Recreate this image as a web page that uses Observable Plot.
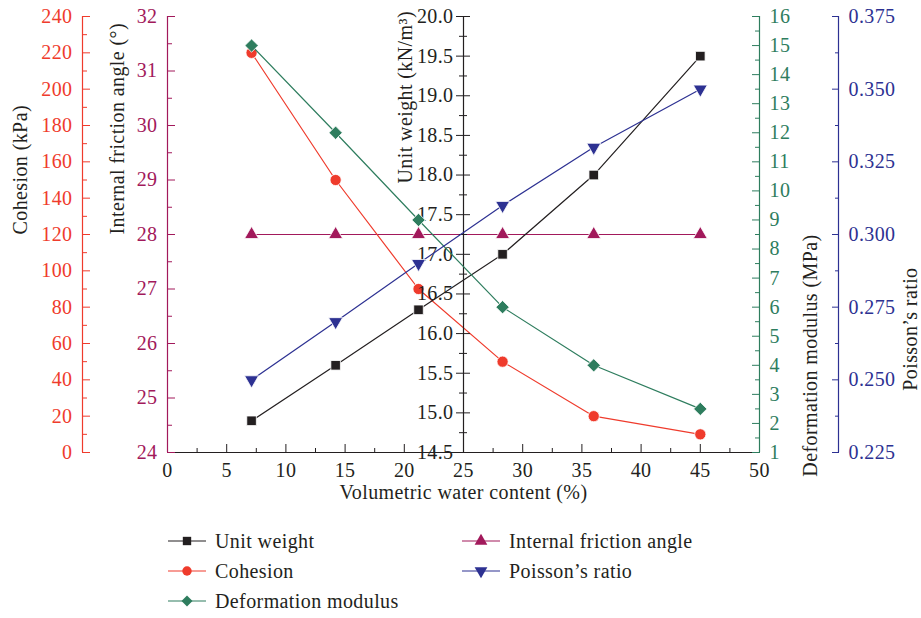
<!DOCTYPE html>
<html><head><meta charset="utf-8">
<script src="https://cdn.jsdelivr.net/npm/d3@7"></script>
<script src="https://cdn.jsdelivr.net/npm/@observablehq/plot@0.6"></script>
<style>
body{margin:0;background:#fff;}
#wrap{position:relative;width:921px;height:618px;font-family:"Liberation Serif",serif;overflow:hidden;}
#wrap svg.layer{position:absolute;left:0;top:0;}
.leg{position:absolute;display:flex;align-items:center;font-size:20px;letter-spacing:0.4px;color:#231f20;white-space:nowrap;}
.leg svg{margin-right:9px;}
</style></head><body><div id="wrap"></div>
<script>
// ---- data ----
const water = [7.1, 14.2, 21.2, 28.3, 36.0, 45.0];
const unitWeight = [14.9, 15.6, 16.3, 17.0, 18.0, 19.5];
const cohesion = [220, 150, 90, 50, 20, 10];
const frictionAngle = [28, 28, 28, 28, 28, 28];
const poisson = [0.25, 0.27, 0.29, 0.31, 0.33, 0.35];
const deformation = [15, 12, 9, 6, 4, 2.5];

const seriesNames = ["Unit weight", "Cohesion", "Deformation modulus", "Internal friction angle", "Poisson\u2019s ratio"];

// ---- ticks ----
const xTicks = [0, 5, 10, 15, 20, 25, 30, 35, 40, 45, 50];
const xMinor = [2.5, 7.5, 12.5, 17.5, 22.5, 27.5, 32.5, 37.5, 42.5, 47.5];
const cohesionTicks = [0, 20, 40, 60, 80, 100, 120, 140, 160, 180, 200, 220, 240];
const cohesionMinor = [10, 30, 50, 70, 90, 110, 130, 150, 170, 190, 210, 230];
const frictionTicks = [24, 25, 26, 27, 28, 29, 30, 31, 32];
const frictionMinor = [24.5, 25.5, 26.5, 27.5, 28.5, 29.5, 30.5, 31.5];
const unitTicks = [14.5, 15.0, 15.5, 16.0, 16.5, 17.0, 17.5, 18.0, 18.5, 19.0, 19.5, 20.0];
const unitMinor = [14.75, 15.25, 15.75, 16.25, 16.75, 17.25, 17.75, 18.25, 18.75, 19.25, 19.75];
const deformTicks = [1, 2, 3, 4, 5, 6, 7, 8, 9, 10, 11, 12, 13, 14, 15, 16];
const deformMinor = [1.5, 2.5, 3.5, 4.5, 5.5, 6.5, 7.5, 8.5, 9.5, 10.5, 11.5, 12.5, 13.5, 14.5, 15.5];
const poissonTicks = [0.225, 0.25, 0.275, 0.3, 0.325, 0.35, 0.375];
const poissonMinor = [0.2375, 0.2625, 0.2875, 0.3125, 0.3375, 0.3625];

// ---- colours ----
const BLACK = "#231f20", RED = "#ef3b2c", PURPLE = "#a2195b", GREEN = "#2e7d5e", BLUE = "#2d3192";

const triangleDown = {
  draw(context, size) {
    const s3 = Math.sqrt(3);
    const y = -Math.sqrt(size / (s3 * 3));
    context.moveTo(0, -y * 2);
    context.lineTo(-s3 * y, y);
    context.lineTo(s3 * y, y);
    context.closePath();
  }
};

const W = 921, H = 510, mL = 167, mR = 162, mT = 16, mB = 58;
const rows = (ys) => water.map((x, i) => ({x, y: ys[i]}));

function layer(domain, marks) {
  const svg = Plot.plot({
    width: W, height: H,
    marginLeft: mL, marginRight: mR, marginTop: mT, marginBottom: mB,
    x: {domain: [0, 50], axis: null},
    y: {domain, axis: null},
    style: {background: "transparent", fontFamily: "'Liberation Serif', serif", fontSize: "20px", letterSpacing: "0.4px", overflow: "visible", color: BLACK},
    marks
  });
  svg.classList.add("layer");
  document.getElementById("wrap").appendChild(svg);
}

function series(ys, color, symbol, r) {
  const d = rows(ys);
  return [
    Plot.line(d, {x: "x", y: "y", stroke: color, strokeWidth: 1.2}),
    Plot.dot(d, {x: "x", y: "y", symbol, r, fill: color, stroke: "white", strokeWidth: 0.8})
  ];
}

// Layer: internal friction angle + x axis
layer([24, 32], [
  Plot.ruleY([24], {stroke: BLACK, strokeWidth: 1.2}),
  Plot.axisX({ticks: xTicks, tickSize: 8, dy: -8, fill: "none", stroke: BLACK}),
  Plot.axisX({ticks: xMinor, tickSize: 4, dy: -4, fill: "none", stroke: BLACK}),
  Plot.axisX({ticks: xTicks, tickSize: 0, tickPadding: 10, fill: BLACK, label: null}),
  Plot.text(["Volumetric water content (%)"], {text: d => d, frameAnchor: "bottom", dy: 46, fill: BLACK}),
  Plot.ruleX([0], {stroke: PURPLE, strokeWidth: 1.2}),
  Plot.axisY({anchor: "left", ticks: frictionTicks, tickSize: 8, dx: 8, fill: "none", stroke: PURPLE}),
  Plot.axisY({anchor: "left", ticks: frictionMinor, tickSize: 5, dx: 5, fill: "none", stroke: PURPLE}),
  Plot.axisY({anchor: "left", ticks: frictionTicks, tickSize: 0, tickPadding: 10, fill: PURPLE, label: null}),
  Plot.text(["Internal friction angle (°)"], {text: d => d, frameAnchor: "left", dx: -50, rotate: -90, fill: BLACK}),
  ...series(frictionAngle, PURPLE, "triangle", 5.2)
]);

// Layer: cohesion
layer([0, 240], [
  Plot.ruleX([0], {stroke: RED, dx: -85, strokeWidth: 1.2}),
  Plot.axisY({anchor: "left", ticks: cohesionTicks, tickSize: 8, dx: -77, fill: "none", stroke: RED}),
  Plot.axisY({anchor: "left", ticks: cohesionMinor, tickSize: 5, dx: -80, fill: "none", stroke: RED}),
  Plot.axisY({anchor: "left", ticks: cohesionTicks, tickSize: 0, dx: -85, tickPadding: 10, fill: RED, label: null}),
  Plot.text(["Cohesion (kPa)"], {text: d => d, frameAnchor: "left", dx: -147, rotate: -90, fill: BLACK}),
  ...series(cohesion, RED, "circle", 5.6)
]);

// Layer: unit weight
layer([14.5, 20], [
  Plot.ruleX([25], {stroke: BLACK, strokeWidth: 1.2}),
  Plot.axisY({anchor: "left", ticks: unitTicks, tickSize: 14, dx: 303, fill: "none", stroke: BLACK}),
  Plot.axisY({anchor: "left", ticks: unitMinor, tickSize: 8, dx: 300, fill: "none", stroke: BLACK}),
  Plot.axisY({anchor: "left", ticks: unitTicks, tickSize: 0, dx: 296, tickPadding: 10, tickFormat: ".1f", fill: BLACK, label: null}),
  Plot.text(["Unit weight (kN/m\u00B3)"], {text: d => d, frameAnchor: "top-left", dx: 230, dy: 167, textAnchor: "start", rotate: -90, fill: BLACK}),
  ...series(unitWeight, BLACK, "square", 5.4)
]);

// Layer: deformation modulus
layer([1, 16], [
  Plot.ruleX([50], {stroke: GREEN, strokeWidth: 1.2}),
  Plot.axisY({anchor: "right", ticks: deformTicks, tickSize: 8, dx: -8, fill: "none", stroke: GREEN}),
  Plot.axisY({anchor: "right", ticks: deformMinor, tickSize: 5, dx: -5, fill: "none", stroke: GREEN}),
  Plot.axisY({anchor: "right", ticks: deformTicks, tickSize: 0, tickPadding: 10, fill: GREEN, label: null}),
  Plot.text(["Deformation modulus (MPa)"], {text: d => d, frameAnchor: "right", dx: 51, rotate: -90, fill: BLACK}),
  ...series(deformation, GREEN, "diamond2", 6.0)
]);

// Layer: Poisson's ratio
layer([0.225, 0.375], [
  Plot.ruleX([50], {stroke: BLUE, dx: 79, strokeWidth: 1.2}),
  Plot.axisY({anchor: "right", ticks: poissonTicks, tickSize: 7, dx: 72, fill: "none", stroke: BLUE}),
  Plot.axisY({anchor: "right", ticks: poissonMinor, tickSize: 4, dx: 75, fill: "none", stroke: BLUE}),
  Plot.axisY({anchor: "right", ticks: poissonTicks, tickSize: 0, dx: 79, tickPadding: 10, tickFormat: ".3f", fill: BLUE, label: null}),
  Plot.text(["Poisson\u2019s ratio"], {text: d => d, frameAnchor: "right", dx: 151, dy: 33, rotate: -90, fill: BLACK}),
  ...series(poisson, BLUE, triangleDown, 5.2)
]);

// ---- legend ----
const legendColors = [BLACK, RED, GREEN, PURPLE, BLUE];
const legendSymbols = [d3.symbolSquare, d3.symbolCircle, "diamond", d3.symbolTriangle, triangleDown];
const legendPos = [[168, 541], [168, 571], [168, 601], [462, 541], [462, 571]];
seriesNames.forEach((name, i) => {
  const div = document.createElement("div");
  div.className = "leg";
  div.style.left = legendPos[i][0] + "px";
  div.style.top = (legendPos[i][1] - 11) + "px";
  div.style.height = "22px";
  const sym = legendSymbols[i];
  let path;
  if (sym === "diamond") {
    path = "M0,-5.5L5.5,0L0,5.5L-5.5,0Z";
  } else {
    path = d3.symbol(sym, 70)();
  }
  div.innerHTML = `<svg width="38" height="22"><line x1="0" y1="11" x2="38" y2="11" stroke="${legendColors[i]}" stroke-width="1.2"/><path d="${path}" transform="translate(19,11)" fill="${legendColors[i]}"/></svg><span>${name}</span>`;
  document.getElementById("wrap").appendChild(div);
});
</script></body></html>
